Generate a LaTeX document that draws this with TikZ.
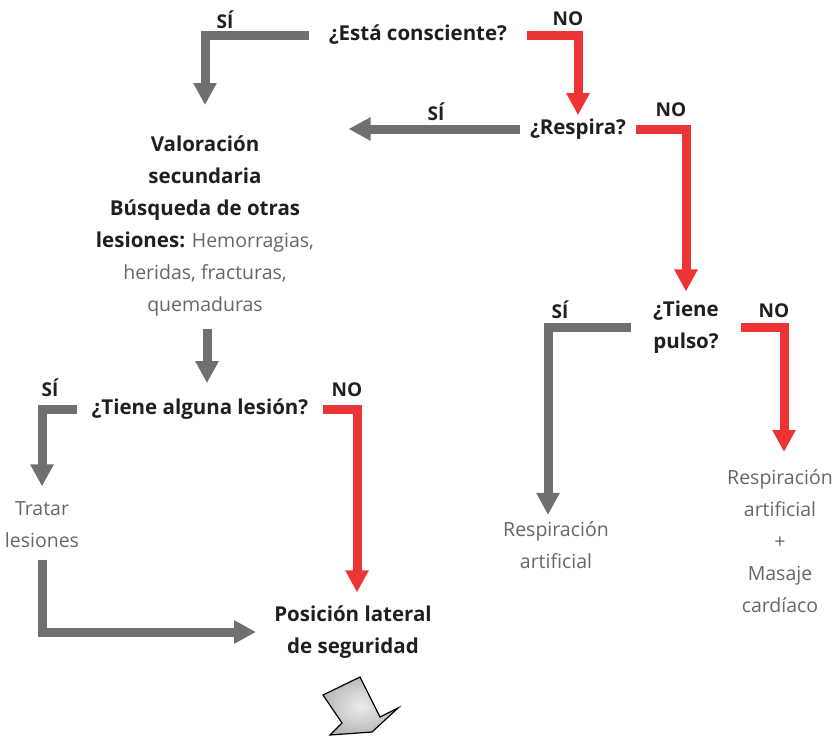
\documentclass[tikz,border=0pt]{standalone}
\usepackage{fontspec}
\setmainfont{Open Sans}
\usetikzlibrary{positioning,arrows.meta}
\definecolor{sigray}{RGB}{112,112,112}
\definecolor{nored}{RGB}{236,52,52}
\newcommand{\bnote}[1]{{\fontsize{20.5}{32}\selectfont\bfseries\color{black!88}#1}}

\begin{document}
\begin{tikzpicture}[
    x=1pt,y=-1pt,
    every node/.style={align=center,font=\fontsize{19.5}{32}\selectfont},
    ask/.style={font=\fontsize{20.5}{31.5}\selectfont\bfseries,text=black!88,inner xsep=#1},
    ask/.default=18pt,
    answer/.style={text=black!60},
    tag/.style={font=\fontsize{19}{22}\selectfont\bfseries,text=black!88},
    siline/.style={draw=sigray,line width=9pt,-{Triangle[width=22pt,length=22pt]}},
    noline/.style={draw=nored,line width=9pt,-{Triangle[width=22pt,length=22pt]}},
  ]
\useasboundingbox (0,0) rectangle (836,747);

\node (consc) [ask=20pt] at (418,35) {¿Está consciente?};
\node (consc si) [tag] at (225,20) {SÍ};
\node (consc no) [tag] at (568,19) {NO};

\node (resp) [ask=10pt] at (578,129) {¿Respira?};
\node (resp si) [tag] at (436,112) {SÍ};
\node (resp no) [tag] at (671,110) {NO};

\node (pulso) [ask=22pt] at (686,327) {¿Tiene\\pulso?};
\node (pulso si) [tag] at (560,310) {SÍ};
\node (pulso no) [tag] at (774,311) {NO};

\node (valor) [answer,anchor=north] at (205,132) {
  \bnote{Valoración}\\
  \bnote{secundaria}\\
  \bnote{Búsqueda de otras}\\
  \bnote{lesiones:} Hemorragias,\\
  heridas, fracturas,\\
  quemaduras
};

\node (lesion) [ask=15pt] at (200,409) {¿Tiene alguna lesión?};
\node (lesion si) [tag] at (50,388) {SÍ};
\node (lesion no) [tag] at (347,390) {NO};

\node (tratar) [answer] at (42,525) {Tratar\\lesiones};
\node (lateral) [ask] at (353,632) {Posición lateral\\de seguridad};
\node (resp art) [answer] at (556,545) {Respiración\\artificial};
\node (masaje) [answer,anchor=north] at (780,466) {Respiración\\artificial\\+\\Masaje\\cardíaco};

\draw[siline,shorten >=27pt] (consc.west) -| (valor.north);
\draw[noline] (consc.east) -| (resp.north);
\draw[siline,shorten >=31pt] (resp.west) -- (resp.west -| valor.east);
\draw[noline,shorten >=6pt] (resp.east) -| (pulso.north);
\draw[siline,shorten >=3pt] (pulso.west) -| ([xshift=-8pt]resp art.north);
\draw[noline,shorten >=14pt] (pulso.east) -| ([xshift=4pt]masaje.north);
\draw[siline,shorten <=10pt,shorten >=12pt] ([xshift=2pt]valor.south) -- ([xshift=2pt]valor.south |- lesion.north);
\draw[siline,shorten >=12pt] (lesion.west) -| (tratar.north);
\draw[noline,shorten >=10pt] (lesion.east) -| ([xshift=4pt]lateral.north);
\draw[siline,shorten <=8pt] (tratar.south) |- (lateral.west);

\draw[line width=1.2pt,inner color=gray!15,outer color=gray!55]
  (323,695) -- (360,677) -- (380,717) -- (398,708) -- (372,732)
  -- (330,735) -- (342,723) -- cycle;
\end{tikzpicture}
\end{document}
